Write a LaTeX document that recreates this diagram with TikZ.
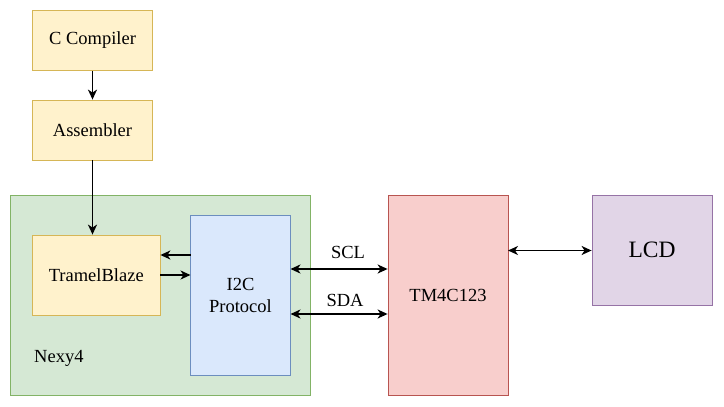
\documentclass[tikz,border=0pt]{standalone}
\usepackage{fontspec}
\setmainfont{Liberation Serif}
\usetikzlibrary{arrows.meta}
\begin{document}
\begin{tikzpicture}[x=1pt,y=-1pt,
  box/.style={draw, line width=0.8pt, minimum width=#1, inner sep=0pt, align=center, font=\fontsize{18.5}{22}\selectfont},
  yel/.style={fill={rgb,255:red,255;green,242;blue,204}, draw={rgb,255:red,214;green,182;blue,86}},
  grn/.style={fill={rgb,255:red,213;green,232;blue,212}, draw={rgb,255:red,130;green,179;blue,102}},
  blu/.style={fill={rgb,255:red,218;green,232;blue,252}, draw={rgb,255:red,108;green,142;blue,191}},
  red/.style={fill={rgb,255:red,248;green,206;blue,204}, draw={rgb,255:red,184;green,84;blue,80}},
  pur/.style={fill={rgb,255:red,225;green,213;blue,231}, draw={rgb,255:red,150;green,115;blue,166}},
  conn/.style={line width=1.8pt, -{Stealth[length=10pt,width=9pt,inset=3pt]}},
  bconn/.style={line width=1.8pt, {Stealth[length=10pt,width=9pt,inset=3pt]}-{Stealth[length=10pt,width=9pt,inset=3pt]}},
  lbl/.style={font=\fontsize{18.5}{22}\selectfont, inner sep=0pt}
]
\useasboundingbox (0,0) rectangle (724,407);
\draw[grn, line width=0.8pt] (10.5,195) rectangle (310,395);
\node[lbl, anchor=west] (nexy) at (34,358) {Nexy4};
\node[box=120pt, yel, minimum height=60pt] (cc) at (92.5,40.5) {C Compiler};
\node[box=120pt, yel, minimum height=60pt] (asm) at (92.5,130) {Assembler};
\node[box=127.5pt, yel, minimum height=80pt] (tb) at (96.25,275) {TramelBlaze};
\node[box=100pt, blu, minimum height=160pt] (i2c) at (240.5,295) {I2C\\Protocol};
\node[box=120pt, red, minimum height=200pt] (tm) at (448,295) {TM4C123};
\node[box=120pt, pur, minimum height=110pt, font=\fontsize{23.5}{28}\selectfont] (lcd) at (652,250) {LCD};
\draw[conn] (cc) -- (asm);
\draw[conn] (asm.south) -- (tb.north -| asm.south);
\coordinate (a1) at (190.5,255);
\coordinate (a2) at (190.5,275);
\draw[conn] (a1) -- (a1 -| tb.east);
\draw[conn] (a2 -| tb.east) -- (a2);
\coordinate (s1) at (290.5,269);
\coordinate (s2) at (290.5,314);
\draw[bconn] (s1) -- (s1 -| tm.west) node[lbl, midway, above=9pt, xshift=9pt] (scl) {SCL};
\draw[bconn] (s2) -- (s2 -| tm.west) node[lbl, midway, above=6pt, xshift=6pt] (sda) {SDA};
\coordinate (l1) at (508,250.5);
\draw[bconn] (l1) -- (l1 -| lcd.west);
\end{tikzpicture}
\end{document}
